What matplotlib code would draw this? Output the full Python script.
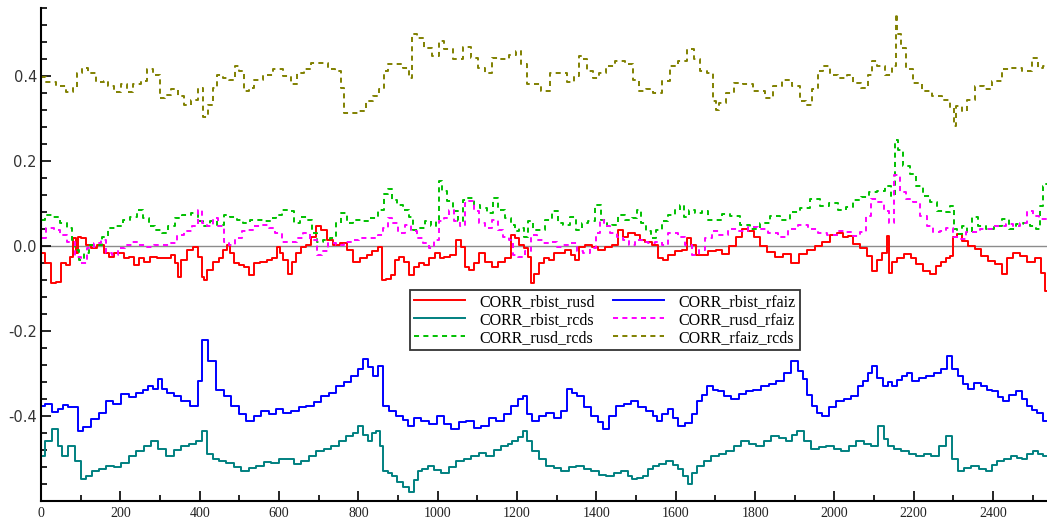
import numpy as np
import matplotlib
matplotlib.use("Agg")
import matplotlib.pyplot as plt
from matplotlib.ticker import MultipleLocator, FixedLocator

# Rolling correlations, (observation, value) pairs
rbist_rusd = [
    (2, -0.017), (19, -0.041), (31, -0.088), (44, -0.084), (56, -0.041), (69, -0.045), (77, -0.025),
    (86, 0.018), (90, -0.017), (94, 0.022), (107, 0.018), (119, 0.002), (132, -0.006), (149, 0.002),
    (166, -0.017), (178, -0.025), (191, -0.017), (203, -0.017), (216, -0.029), (229, -0.025),
    (241, -0.045), (254, -0.029), (266, -0.037), (283, -0.025), (300, -0.029), (321, -0.029),
    (334, -0.021), (342, -0.041), (349, -0.073), (359, -0.033), (376, -0.009), (388, -0.002),
    (401, -0.025), (409, -0.073), (413, -0.080), (426, -0.057), (443, -0.037), (455, -0.029),
    (464, -0.009), (472, 0.002), (481, -0.017), (493, -0.041), (506, -0.045), (518, -0.049),
    (531, -0.069), (544, -0.041), (561, -0.037), (577, -0.033), (590, -0.029), (598, -0.002),
    (607, -0.017), (615, -0.033), (628, -0.065), (636, -0.037), (649, -0.017), (661, -0.002),
    (674, 0.002), (687, 0.022), (699, 0.046), (712, 0.038), (729, 0.014), (745, 0.002), (762, 0.006),
    (779, -0.009), (796, -0.037), (813, -0.029), (829, -0.021), (842, -0.013), (855, -0.002),
    (863, -0.080), (876, -0.077), (888, -0.069), (897, -0.033), (909, -0.025), (922, -0.037),
    (934, -0.069), (947, -0.049), (960, -0.041), (972, -0.045), (985, -0.029), (1002, -0.017),
    (1010, -0.029), (1023, -0.025), (1039, -0.021), (1052, 0.014), (1065, -0.002), (1073, -0.049),
    (1086, -0.057), (1098, -0.041), (1111, -0.017), (1128, -0.037), (1145, -0.049), (1161, -0.037),
    (1178, -0.029), (1191, 0.026), (1199, 0.018), (1212, 0.002), (1224, -0.006), (1233, -0.025),
    (1237, -0.088), (1250, -0.065), (1262, -0.041), (1275, -0.029), (1287, -0.033), (1300, -0.017),
    (1313, -0.017), (1329, -0.009), (1342, -0.021), (1350, -0.033), (1363, -0.002), (1380, 0.002),
    (1397, -0.002), (1413, -0.009), (1430, -0.002), (1447, 0.002), (1460, 0.038), (1472, 0.022),
    (1489, 0.030), (1506, 0.026), (1514, 0.014), (1531, 0.010), (1548, 0.002), (1561, -0.029),
    (1573, -0.033), (1590, -0.021), (1607, -0.013), (1623, -0.009), (1632, 0.018), (1644, 0.002),
    (1657, -0.021), (1674, -0.021), (1691, -0.013), (1710, -0.010), (1725, -0.020), (1745, 0.000),
    (1760, 0.020), (1775, 0.040), (1790, 0.035), (1805, 0.020), (1820, 0.000), (1840, -0.015),
    (1860, -0.025), (1880, -0.020), (1900, -0.040), (1920, -0.020), (1940, -0.010), (1960, 0.000),
    (1980, 0.010), (2000, 0.025), (2015, 0.030), (2028, 0.020), (2039, 0.024), (2056, 0.004),
    (2073, -0.004), (2089, -0.024), (2102, -0.059), (2115, -0.032), (2123, -0.016), (2131, -0.016),
    (2136, 0.024), (2140, -0.063), (2152, -0.039), (2165, -0.028), (2186, -0.020), (2199, -0.028),
    (2215, -0.043), (2232, -0.059), (2249, -0.067), (2262, -0.047), (2278, -0.039), (2287, -0.028),
    (2295, -0.024), (2304, 0.020), (2316, 0.028), (2329, 0.012), (2346, 0.000), (2362, -0.008),
    (2379, -0.024), (2396, -0.036), (2413, -0.043), (2430, -0.067), (2442, -0.028), (2459, -0.016),
    (2476, -0.024), (2497, -0.039), (2514, -0.028), (2526, -0.063), (2535, -0.107),
]

rbist_rfaiz = [
    (0, -0.376), (20, -0.372), (35, -0.390), (48, -0.383), (62, -0.374), (75, -0.378), (86, -0.380),
    (98, -0.435), (115, -0.425), (136, -0.407), (155, -0.392), (174, -0.364), (190, -0.372),
    (212, -0.348), (230, -0.356), (250, -0.346), (262, -0.338), (275, -0.329), (290, -0.336),
    (300, -0.312), (312, -0.336), (325, -0.346), (345, -0.352), (363, -0.364), (388, -0.376),
    (401, -0.317), (413, -0.222), (431, -0.270), (451, -0.340), (470, -0.352), (489, -0.376),
    (508, -0.395), (527, -0.412), (545, -0.400), (565, -0.388), (585, -0.396), (602, -0.383),
    (620, -0.392), (640, -0.388), (660, -0.380), (678, -0.376), (698, -0.368), (716, -0.353),
    (735, -0.345), (754, -0.329), (772, -0.320), (792, -0.305), (805, -0.290), (817, -0.265),
    (830, -0.285), (842, -0.305), (855, -0.282), (867, -0.376), (885, -0.388), (905, -0.400),
    (918, -0.410), (930, -0.424), (950, -0.405), (968, -0.412), (988, -0.420), (1006, -0.400),
    (1025, -0.418), (1044, -0.431), (1062, -0.415), (1081, -0.412), (1100, -0.428), (1119, -0.424),
    (1138, -0.405), (1157, -0.412), (1175, -0.395), (1195, -0.376), (1208, -0.360), (1220, -0.353),
    (1232, -0.395), (1245, -0.412), (1265, -0.400), (1283, -0.393), (1302, -0.405), (1321, -0.388),
    (1333, -0.336), (1345, -0.345), (1359, -0.353), (1378, -0.380), (1397, -0.400), (1410, -0.415),
    (1422, -0.431), (1440, -0.400), (1460, -0.376), (1478, -0.372), (1497, -0.364), (1515, -0.380),
    (1535, -0.388), (1548, -0.400), (1560, -0.412), (1573, -0.395), (1586, -0.383), (1598, -0.405),
    (1611, -0.424), (1636, -0.417), (1648, -0.395), (1661, -0.364), (1673, -0.350), (1686, -0.329),
    (1700, -0.340), (1712, -0.341), (1730, -0.352), (1749, -0.360), (1768, -0.348), (1787, -0.341),
    (1805, -0.338), (1825, -0.329), (1845, -0.325), (1863, -0.317), (1882, -0.300), (1901, -0.270),
    (1914, -0.295), (1926, -0.312), (1938, -0.350), (1951, -0.376), (1963, -0.392), (1976, -0.400),
    (1995, -0.378), (2014, -0.364), (2033, -0.360), (2052, -0.353), (2065, -0.330), (2077, -0.317),
    (2090, -0.300), (2102, -0.282), (2115, -0.310), (2128, -0.329), (2140, -0.320), (2153, -0.329),
    (2165, -0.315), (2178, -0.305), (2190, -0.298), (2203, -0.317), (2222, -0.310), (2241, -0.305),
    (2260, -0.298), (2279, -0.289), (2291, -0.258), (2304, -0.290), (2317, -0.305), (2330, -0.325),
    (2342, -0.336), (2360, -0.322), (2380, -0.329), (2392, -0.340), (2405, -0.341), (2418, -0.355),
    (2430, -0.364), (2450, -0.350), (2468, -0.341), (2480, -0.360), (2493, -0.376), (2505, -0.385),
    (2518, -0.393), (2534, -0.412),
]

rbist_rcds = [
    (0, -0.495), (18, -0.459), (35, -0.430), (48, -0.471), (60, -0.495), (78, -0.471), (93, -0.507),
    (106, -0.549), (120, -0.540), (136, -0.530), (155, -0.524), (174, -0.518), (192, -0.520),
    (212, -0.511), (230, -0.495), (250, -0.483), (268, -0.470), (287, -0.459), (305, -0.478),
    (325, -0.495), (345, -0.480), (363, -0.471), (382, -0.465), (401, -0.459), (413, -0.436),
    (426, -0.490), (439, -0.502), (458, -0.505), (476, -0.511), (495, -0.520), (514, -0.530),
    (532, -0.522), (552, -0.518), (570, -0.508), (590, -0.511), (610, -0.500), (628, -0.502),
    (647, -0.512), (665, -0.507), (684, -0.495), (703, -0.483), (722, -0.478), (741, -0.471),
    (760, -0.460), (779, -0.447), (792, -0.440), (804, -0.424), (817, -0.445), (829, -0.459),
    (840, -0.440), (850, -0.436), (858, -0.470), (867, -0.530), (880, -0.535), (892, -0.542),
    (905, -0.555), (918, -0.566), (935, -0.578), (945, -0.550), (955, -0.530), (968, -0.525),
    (981, -0.518), (1000, -0.528), (1018, -0.535), (1037, -0.520), (1056, -0.507), (1075, -0.500),
    (1094, -0.495), (1113, -0.488), (1132, -0.495), (1150, -0.480), (1170, -0.471), (1182, -0.465),
    (1195, -0.459), (1208, -0.450), (1220, -0.436), (1232, -0.460), (1245, -0.483), (1265, -0.500),
    (1283, -0.518), (1302, -0.522), (1321, -0.530), (1340, -0.520), (1359, -0.518), (1378, -0.525),
    (1397, -0.530), (1415, -0.538), (1434, -0.542), (1453, -0.535), (1472, -0.530), (1485, -0.540),
    (1497, -0.549), (1510, -0.545), (1523, -0.540), (1535, -0.525), (1548, -0.518), (1567, -0.512),
    (1586, -0.507), (1598, -0.515), (1611, -0.525), (1624, -0.540), (1636, -0.559), (1648, -0.535),
    (1661, -0.518), (1680, -0.505), (1699, -0.495), (1718, -0.490), (1737, -0.483), (1756, -0.470),
    (1775, -0.459), (1793, -0.465), (1812, -0.471), (1831, -0.458), (1850, -0.447), (1869, -0.452),
    (1888, -0.459), (1900, -0.445), (1913, -0.436), (1932, -0.460), (1951, -0.478), (1970, -0.472),
    (1989, -0.471), (2008, -0.478), (2027, -0.483), (2045, -0.470), (2064, -0.459), (2083, -0.465),
    (2102, -0.471), (2120, -0.424), (2130, -0.455), (2140, -0.471), (2160, -0.478), (2178, -0.483),
    (2197, -0.490), (2216, -0.495), (2235, -0.490), (2254, -0.495), (2272, -0.470), (2291, -0.447),
    (2304, -0.500), (2317, -0.530), (2336, -0.522), (2355, -0.518), (2373, -0.525), (2392, -0.530),
    (2405, -0.515), (2417, -0.507), (2436, -0.500), (2455, -0.495), (2468, -0.498), (2480, -0.502),
    (2493, -0.490), (2506, -0.483), (2520, -0.490), (2534, -0.495),
]

rusd_rfaiz = [
    (2, 0.018), (23, 0.042), (40, 0.038), (56, 0.026), (77, 0.010), (94, -0.025), (107, -0.041),
    (124, -0.006), (145, 0.006), (157, 0.014), (170, -0.017), (187, -0.021), (203, -0.006),
    (220, 0.002), (237, 0.010), (254, 0.002), (275, -0.002), (296, 0.002), (317, 0.002), (334, 0.006),
    (351, 0.026), (371, 0.034), (388, 0.046), (401, 0.085), (409, 0.054), (426, 0.046), (439, 0.065),
    (455, 0.046), (468, 0.010), (481, 0.002), (497, 0.018), (514, 0.034), (527, 0.038), (544, 0.046),
    (565, 0.050), (582, 0.042), (598, 0.030), (615, 0.010), (636, 0.010), (653, 0.018), (670, 0.030),
    (687, 0.014), (703, -0.021), (716, -0.013), (733, 0.006), (754, 0.002), (771, 0.010), (792, 0.014),
    (809, 0.018), (829, 0.018), (842, 0.018), (855, 0.026), (867, 0.042), (880, 0.065), (892, 0.054),
    (909, 0.030), (926, 0.050), (939, 0.034), (955, 0.018), (972, 0.006), (985, -0.006), (997, 0.014),
    (1010, 0.058), (1023, 0.065), (1035, 0.085), (1048, 0.058), (1065, 0.046), (1073, 0.101),
    (1086, 0.105), (1098, 0.081), (1111, 0.054), (1128, 0.042), (1145, 0.062), (1157, 0.038),
    (1170, 0.022), (1187, 0.014), (1195, -0.021), (1212, -0.025), (1229, -0.013), (1241, 0.026),
    (1258, 0.014), (1275, 0.006), (1292, 0.010), (1308, -0.002), (1325, 0.002), (1342, 0.006),
    (1359, -0.013), (1376, -0.017), (1392, -0.006), (1405, 0.030), (1413, 0.062), (1426, 0.046),
    (1443, 0.030), (1460, 0.022), (1476, 0.014), (1489, 0.002), (1506, 0.014), (1523, 0.010),
    (1539, 0.006), (1556, 0.010), (1573, 0.002), (1586, 0.030), (1598, 0.030), (1615, 0.022),
    (1632, 0.002), (1649, -0.021), (1666, -0.009), (1682, 0.018), (1699, 0.034), (1720, 0.025),
    (1745, 0.040), (1770, 0.035), (1795, 0.045), (1820, 0.040), (1845, 0.030), (1870, 0.020),
    (1895, 0.040), (1920, 0.050), (1945, 0.040), (1970, 0.030), (1995, 0.025), (2020, 0.035),
    (2039, 0.032), (2056, 0.024), (2073, 0.032), (2085, 0.071), (2102, 0.110), (2119, 0.103),
    (2131, 0.083), (2144, 0.055), (2157, 0.166), (2173, 0.126), (2190, 0.110), (2207, 0.103),
    (2224, 0.071), (2241, 0.047), (2257, 0.032), (2274, 0.036), (2291, 0.043), (2308, 0.020),
    (2325, 0.016), (2341, 0.032), (2358, 0.032), (2375, 0.039), (2392, 0.039), (2409, 0.047),
    (2425, 0.047), (2442, 0.051), (2459, 0.047), (2476, 0.055), (2493, 0.083), (2509, 0.071),
    (2522, 0.063), (2535, 0.063),
]

rusd_rcds = [
    (2, 0.062), (19, 0.073), (40, 0.069), (56, 0.054), (73, 0.042), (82, 0.014), (90, -0.009),
    (103, -0.033), (115, -0.017), (128, 0.002), (145, 0.002), (161, 0.022), (178, 0.042), (199, 0.046),
    (216, 0.062), (233, 0.069), (250, 0.085), (266, 0.065), (279, 0.046), (296, 0.038), (313, 0.030),
    (329, 0.046), (346, 0.065), (367, 0.073), (388, 0.077), (401, 0.058), (418, 0.046), (434, 0.058),
    (455, 0.050), (468, 0.073), (485, 0.069), (502, 0.062), (518, 0.054), (535, 0.062), (552, 0.062),
    (573, 0.058), (586, 0.065), (598, 0.073), (619, 0.085), (632, 0.081), (645, 0.054), (661, 0.069),
    (678, 0.062), (687, 0.030), (703, 0.010), (720, 0.014), (737, 0.018), (750, 0.054), (762, 0.077),
    (779, 0.054), (796, 0.062), (817, 0.058), (838, 0.065), (859, 0.085), (871, 0.121), (880, 0.133),
    (892, 0.109), (905, 0.097), (922, 0.085), (934, 0.069), (943, 0.038), (960, 0.042), (976, 0.058),
    (989, 0.046), (1002, 0.058), (1006, 0.152), (1014, 0.129), (1031, 0.105), (1044, 0.081),
    (1056, 0.058), (1069, 0.109), (1086, 0.113), (1098, 0.097), (1115, 0.089), (1132, 0.077),
    (1145, 0.113), (1161, 0.085), (1178, 0.065), (1191, 0.050), (1199, 0.034), (1212, 0.042),
    (1224, 0.022), (1233, 0.058), (1245, 0.038), (1262, 0.038), (1279, 0.062), (1296, 0.081),
    (1308, 0.054), (1325, 0.050), (1342, 0.069), (1355, 0.038), (1371, 0.054), (1388, 0.058),
    (1405, 0.097), (1418, 0.062), (1434, 0.046), (1447, 0.050), (1464, 0.073), (1481, 0.062),
    (1497, 0.065), (1506, 0.085), (1518, 0.054), (1531, 0.034), (1544, 0.018), (1556, 0.038),
    (1573, 0.058), (1590, 0.073), (1607, 0.085), (1615, 0.097), (1628, 0.069), (1640, 0.085),
    (1657, 0.077), (1674, 0.081), (1691, 0.062), (1710, 0.060), (1725, 0.075), (1750, 0.070),
    (1775, 0.050), (1800, 0.040), (1825, 0.055), (1850, 0.070), (1875, 0.060), (1900, 0.080),
    (1925, 0.090), (1950, 0.110), (1975, 0.095), (2000, 0.100), (2020, 0.085), (2039, 0.091),
    (2056, 0.107), (2077, 0.114), (2098, 0.126), (2119, 0.130), (2136, 0.142), (2148, 0.118),
    (2157, 0.249), (2165, 0.225), (2182, 0.189), (2199, 0.170), (2215, 0.142), (2232, 0.118),
    (2249, 0.103), (2266, 0.083), (2283, 0.079), (2300, 0.095), (2304, 0.039), (2316, 0.028),
    (2329, 0.047), (2341, 0.032), (2354, 0.067), (2371, 0.047), (2392, 0.039), (2413, 0.047),
    (2430, 0.063), (2451, 0.039), (2467, 0.051), (2484, 0.055), (2501, 0.047), (2514, 0.039),
    (2522, 0.095), (2530, 0.142), (2535, 0.146),
]

rfaiz_rcds = [
    (0, 0.397), (25, 0.386), (50, 0.376), (75, 0.362), (88, 0.372), (95, 0.407), (110, 0.419),
    (125, 0.407), (150, 0.386), (165, 0.389), (175, 0.376), (193, 0.362), (210, 0.380), (222, 0.362),
    (244, 0.380), (260, 0.387), (273, 0.415), (294, 0.403), (307, 0.348), (319, 0.356), (336, 0.368),
    (353, 0.352), (370, 0.332), (386, 0.344), (403, 0.372), (414, 0.302), (428, 0.332), (437, 0.372),
    (450, 0.403), (466, 0.395), (483, 0.391), (496, 0.423), (504, 0.411), (517, 0.364), (529, 0.372),
    (546, 0.391), (571, 0.403), (597, 0.415), (622, 0.399), (638, 0.380), (655, 0.407), (672, 0.415),
    (689, 0.431), (714, 0.431), (731, 0.415), (752, 0.411), (760, 0.372), (765, 0.313), (790, 0.313),
    (811, 0.317), (828, 0.340), (845, 0.352), (861, 0.368), (870, 0.411), (878, 0.428), (903, 0.427),
    (924, 0.419), (931, 0.395), (941, 0.499), (954, 0.490), (975, 0.466), (996, 0.446), (1008, 0.482),
    (1025, 0.462), (1050, 0.439), (1075, 0.468), (1092, 0.443), (1109, 0.419), (1130, 0.407),
    (1143, 0.443), (1168, 0.439), (1193, 0.450), (1201, 0.458), (1218, 0.427), (1231, 0.380),
    (1252, 0.380), (1271, 0.364), (1296, 0.407), (1317, 0.407), (1334, 0.386), (1355, 0.399),
    (1359, 0.446), (1371, 0.439), (1384, 0.411), (1401, 0.395), (1413, 0.407), (1434, 0.423),
    (1460, 0.435), (1485, 0.427), (1502, 0.391), (1514, 0.365), (1535, 0.368), (1552, 0.360),
    (1577, 0.387), (1594, 0.423), (1619, 0.435), (1640, 0.462), (1653, 0.439), (1670, 0.411),
    (1687, 0.407), (1699, 0.340), (1703, 0.320), (1716, 0.336), (1737, 0.360), (1758, 0.383),
    (1779, 0.380), (1813, 0.364), (1838, 0.348), (1855, 0.376), (1880, 0.391), (1905, 0.376),
    (1922, 0.340), (1934, 0.332), (1951, 0.368), (1964, 0.411), (1981, 0.423), (1997, 0.403),
    (2023, 0.395), (2039, 0.403), (2056, 0.383), (2077, 0.372), (2090, 0.403), (2098, 0.435),
    (2115, 0.423), (2140, 0.403), (2153, 0.423), (2157, 0.546), (2161, 0.498), (2174, 0.466),
    (2187, 0.415), (2208, 0.383), (2233, 0.364), (2258, 0.352), (2283, 0.344), (2300, 0.324),
    (2302, 0.281), (2313, 0.328), (2329, 0.317), (2342, 0.344), (2367, 0.376), (2388, 0.368),
    (2409, 0.387), (2434, 0.415), (2460, 0.419), (2485, 0.411), (2510, 0.443), (2518, 0.419),
    (2535, 0.423),
]

series_names = ["CORR_rbist_rusd", "CORR_rbist_rcds", "CORR_rusd_rcds",
                "CORR_rbist_rfaiz", "CORR_rusd_rfaiz", "CORR_rfaiz_rcds"]
series_data = [rbist_rusd, rbist_rcds, rusd_rcds, rbist_rfaiz, rusd_rfaiz, rfaiz_rcds]
series_colors = ["#ff0000", "#008080", "#00c000", "#0000ff", "#ff00ff", "#808000"]
series_dashed = [False, False, True, False, True, True]

fig = plt.figure(figsize=(10.47, 5.20), dpi=100)
ax = fig.add_axes([0.0392, 0.0365, 0.9608, 0.9485])

ax.axhline(0.0, color="#8c8c8c", lw=1.0, zorder=1)

for name, data, col, dashed in zip(series_names, series_data, series_colors, series_dashed):
    arr = np.array(data)
    line, = ax.plot(arr[:, 0], arr[:, 1], color=col, lw=1.4, label=name, zorder=2,
                    drawstyle="steps-mid")
    if dashed:
        line.set_dashes((2.6, 2.2))

ax.set_xlim(0, 2536)
ax.set_ylim(-0.6, 0.56)

ax.xaxis.set_major_locator(MultipleLocator(200))
ax.xaxis.set_minor_locator(MultipleLocator(100))
ax.yaxis.set_major_locator(FixedLocator([-0.4, -0.2, 0.0, 0.2, 0.4]))
ax.yaxis.set_minor_locator(MultipleLocator(0.04))
ax.yaxis.set_major_formatter(matplotlib.ticker.FuncFormatter(lambda v, p: f"{v:.1f}"))

for side in ("top", "right"):
    ax.spines[side].set_visible(False)
for side in ("left", "bottom"):
    ax.spines[side].set_linewidth(1.5)

ax.tick_params(axis="both", which="major", direction="in", length=7, width=1.2, color="black")
ax.tick_params(axis="both", which="minor", direction="in", length=4.5, width=1.2, color="black")
ax.tick_params(axis="y", which="major", pad=3, labelsize=10.5, labelcolor="#333333")
ax.tick_params(axis="x", which="major", pad=4, labelsize=10, labelcolor="#222222")
for lab in ax.get_yticklabels():
    lab.set_family("DejaVu Sans")
for lab in ax.get_xticklabels():
    lab.set_family("Liberation Serif")

leg = ax.legend(loc="upper left", bbox_to_anchor=(0.367, 0.428), ncol=2,
                prop={"family": "Liberation Serif", "size": 11.5},
                frameon=True, fancybox=False, handlelength=3.2, handletextpad=0.9,
                columnspacing=1.1, labelspacing=0.12, borderpad=0.25, borderaxespad=0.0)
leg.get_frame().set_edgecolor("black")
leg.get_frame().set_linewidth(1.3)

fig.savefig("out.png", dpi=100)
